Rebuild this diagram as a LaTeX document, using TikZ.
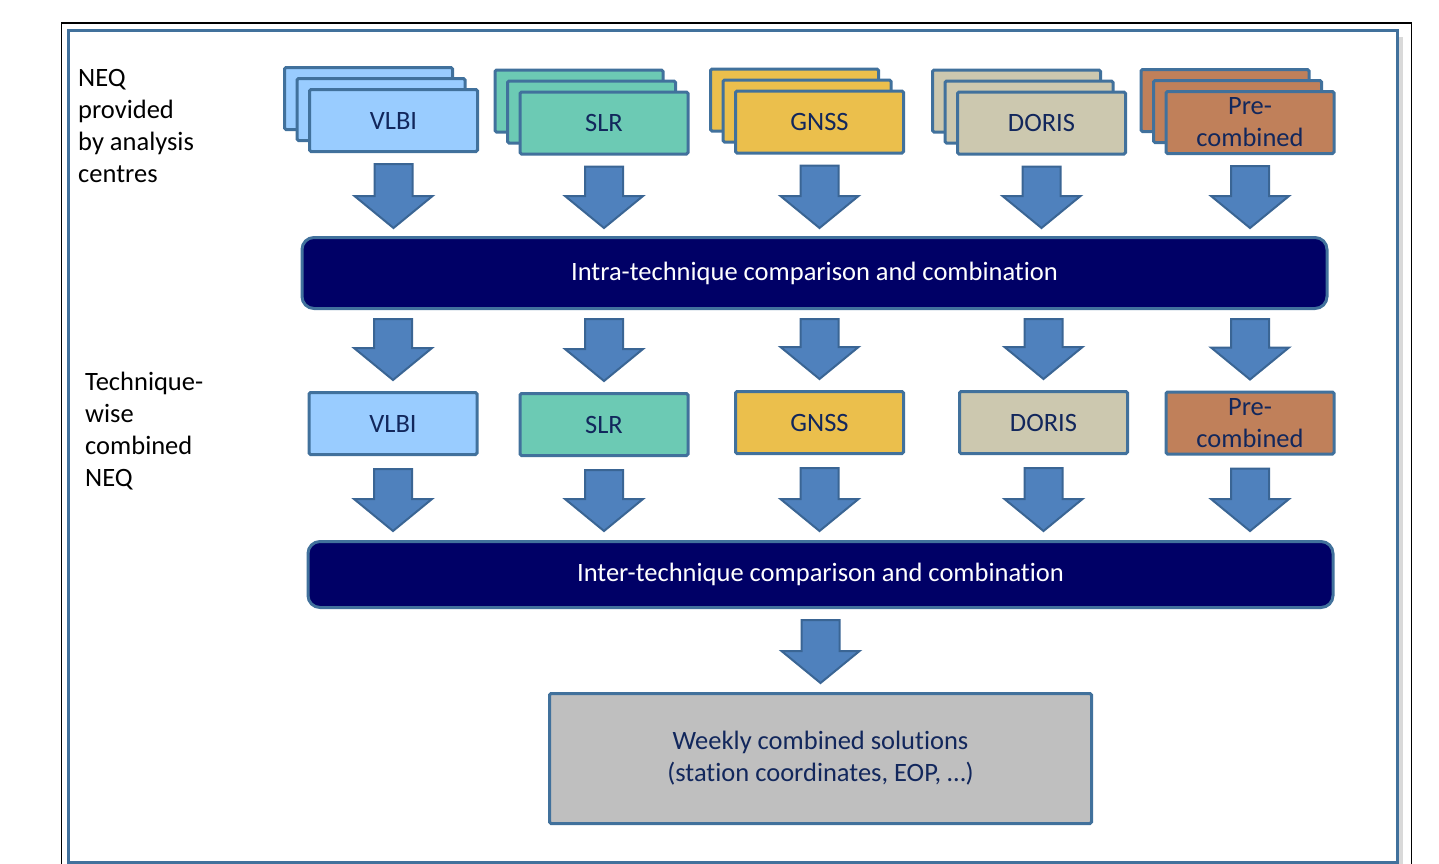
\documentclass[tikz,border=0pt]{standalone}
\usepackage{fontspec}
\setmainfont{Carlito}[Ligatures={NoCommon}]
\usepackage{xcolor}
\usepackage{tikz}
\usetikzlibrary{positioning,calc,shadows}

\definecolor{framecol}{HTML}{41719C}
\definecolor{arrowfill}{HTML}{4F81BD}
\definecolor{arrowedge}{HTML}{3A6594}
\definecolor{barblue}{HTML}{000066}
\definecolor{textnavy}{HTML}{12275C}
\definecolor{vlbicol}{HTML}{99CCFF}
\definecolor{slrcol}{HTML}{6CCAB4}
\definecolor{gnsscol}{HTML}{EBBF4C}
\definecolor{doriscol}{HTML}{CCC8AF}
\definecolor{precol}{HTML}{C0805A}
\definecolor{weeklycol}{HTML}{BFBFBF}

% block arrow from the first point down to the tip at the second point
\newcommand{\flowarrow}[2]{%
  \filldraw[flowarrow] let \p1=#1, \p2=#2 in
    (\x1-19,\y1) -- (\x1+19,\y1) -- (\x1+19,\y2+32) -- (\x1+39,\y2+32)
    -- (\x1,\y2) -- (\x1-39,\y2+32) -- (\x1-19,\y2+32) -- cycle;}

\begin{document}
\begin{tikzpicture}[x=1pt,y=-1pt,
  bigfont/.style={font=\fontsize{26.5}{32}\selectfont},
  card/.style={draw=framecol, line width=3pt, rounded corners=1.5pt},
  techbox/.style={card, bigfont, text=textnavy, align=center, inner sep=0pt,
    minimum width=168pt, minimum height=62pt},
  bar/.style={draw=framecol, fill=barblue, line width=3pt, rounded corners=12pt,
    bigfont, text=white, minimum width=1025pt},
  flowarrow/.style={fill=arrowfill, draw=arrowedge, line width=2pt},
  sidelabel/.style={bigfont, anchor=north west, align=left, inner sep=0pt}]
\useasboundingbox (0,0) rectangle (1439,863);

% Frames
\draw[black, line width=1.5pt] (61.5,23) rectangle (1411.5,900);
\draw[framecol, fill=white, line width=3pt,
  drop shadow={shadow xshift=6pt, shadow yshift=-6pt, opacity=0.3}]
  (68.5,30.5) rectangle (1397,862);

% Side labels
\node[sidelabel] (neqlabel) at (78,69) {NEQ\\provided\\by analysis\\centres};
\node[sidelabel] (twlabel) at (85,372) {Technique-\\wise\\combined\\NEQ};

% NEQ stacks from the analysis centres
\draw[card, fill=vlbicol] (284.5,67.5) rectangle ++(168,62);
\draw[card, fill=vlbicol] (297,78.5) rectangle ++(168,62);
\node[techbox, fill=vlbicol] (vlbitop) at (393.5,120.5) {VLBI};
\draw[card, fill=slrcol] (495,70) rectangle ++(168,62);
\draw[card, fill=slrcol] (507.5,81) rectangle ++(168,62);
\node[techbox, fill=slrcol] (slrtop) at (604,123) {SLR};
\draw[card, fill=gnsscol] (710.5,69) rectangle ++(168,62);
\draw[card, fill=gnsscol] (723,80) rectangle ++(168,62);
\node[techbox, fill=gnsscol] (gnsstop) at (819.5,122) {GNSS};
\draw[card, fill=doriscol] (932.5,70) rectangle ++(168,62);
\draw[card, fill=doriscol] (945,81) rectangle ++(168,62);
\node[techbox, fill=doriscol] (doristop) at (1041.5,123) {DORIS};
\draw[card, fill=precol] (1141,69.5) rectangle ++(168,62);
\draw[card, fill=precol] (1153.5,80.5) rectangle ++(168,62);
\node[techbox, fill=precol] (pretop) at (1250,122.5) {Pre-\\combined};

% Combination bars
\node[bar, minimum height=71pt] (intra) at (814.5,273)
  {Intra-technique comparison and combination};
\node[bar, minimum height=66pt] (inter) at (820.5,574.5)
  {Inter-technique comparison and combination};

% Technique-wise combined NEQ
\node[techbox, fill=vlbicol] (vlbimid) at (393,423.5) {VLBI};
\node[techbox, fill=slrcol] (slrmid) at (604,424.5) {SLR};
\node[techbox, fill=gnsscol] (gnssmid) at (819.5,422.5) {GNSS};
\node[techbox, fill=doriscol] (dorismid) at (1043.5,422.5) {DORIS};
\node[techbox, fill=precol] (premid) at (1250,423) {Pre-\\combined};

% Result
\node[card, fill=weeklycol, bigfont, text=textnavy, align=center,
  minimum width=542pt, minimum height=130pt] (weekly) at (820.5,758.5)
  {Weekly combined solutions\\(station coordinates, EOP, \dots)};

% Arrows
\flowarrow{($(vlbitop.south)+(0,11)$)}{($(vlbitop.south |- intra.north)+(0,-8)$)}
\flowarrow{($(slrtop.south)+(0,11)$)}{($(slrtop.south |- intra.north)+(0,-8)$)}
\flowarrow{($(gnsstop.south)+(0,11)$)}{($(gnsstop.south |- intra.north)+(0,-8)$)}
\flowarrow{($(doristop.south)+(0,11)$)}{($(doristop.south |- intra.north)+(0,-8)$)}
\flowarrow{($(pretop.south)+(0,11)$)}{($(pretop.south |- intra.north)+(0,-8)$)}

\flowarrow{($(vlbimid.north |- intra.south)+(0,9)$)}{($(vlbimid.north)+(0,-11)$)}
\flowarrow{($(slrmid.north |- intra.south)+(0,9)$)}{($(slrmid.north)+(0,-11)$)}
\flowarrow{($(gnssmid.north |- intra.south)+(0,9)$)}{($(gnssmid.north)+(0,-11)$)}
\flowarrow{($(dorismid.north |- intra.south)+(0,9)$)}{($(dorismid.north)+(0,-11)$)}
\flowarrow{($(premid.north |- intra.south)+(0,9)$)}{($(premid.north)+(0,-11)$)}

\flowarrow{($(vlbimid.south)+(0,13)$)}{($(vlbimid.south |- inter.north)+(0,-9)$)}
\flowarrow{($(slrmid.south)+(0,13)$)}{($(slrmid.south |- inter.north)+(0,-9)$)}
\flowarrow{($(gnssmid.south)+(0,13)$)}{($(gnssmid.south |- inter.north)+(0,-9)$)}
\flowarrow{($(dorismid.south)+(0,13)$)}{($(dorismid.south |- inter.north)+(0,-9)$)}
\flowarrow{($(premid.south)+(0,13)$)}{($(premid.south |- inter.north)+(0,-9)$)}

\flowarrow{($(inter.south)+(0,11)$)}{($(weekly.north)+(0,-9)$)}
\end{tikzpicture}
\end{document}
